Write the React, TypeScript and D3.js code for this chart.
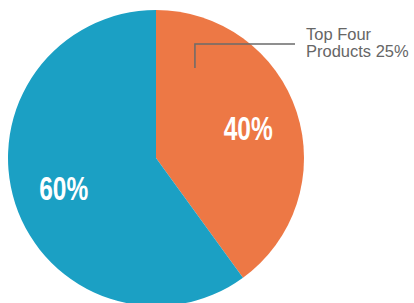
import * as d3 from "d3";
import { useEffect, useRef } from "react";

const categories = ["Top products", "Other products"];
const shares = [40, 60];
const sliceLabels = ["40%", "60%"];
const sliceColors = ["#ED7845", "#1BA0C4"];
const calloutLines = ["Top Four", "Products 25%"];

const App = () => {
    const svgRef = useRef<SVGSVGElement | null>(null);

    const dimensions = { width: 414, height: 303 };
    const center = { x: 156, y: 158 };
    const radius = 148;

    useEffect(() => {
        const svg = d3.select(svgRef.current);
        svg.selectAll("*").remove();

        const slices = categories.map((name, i) => ({
            name,
            value: shares[i],
            label: sliceLabels[i],
            color: sliceColors[i],
        }));

        const pie = d3
            .pie<(typeof slices)[number]>()
            .value((d) => d.value)
            .sort(null);

        const arc = d3
            .arc<d3.PieArcDatum<(typeof slices)[number]>>()
            .innerRadius(0)
            .outerRadius(radius);

        // labels sit at r ~97
        const labelArc = d3
            .arc<d3.PieArcDatum<(typeof slices)[number]>>()
            .innerRadius(97)
            .outerRadius(97);

        const g = svg
            .append("g")
            .attr("transform", `translate(${center.x}, ${center.y})`);

        const arcs = pie(slices);

        g.selectAll("path")
            .data(arcs)
            .join("path")
            .attr("d", arc)
            .attr("fill", (d) => d.data.color);

        // condensed look: squeeze bold sans into a narrow box
        g.selectAll("text.pct")
            .data(arcs)
            .join("text")
            .attr("class", "pct")
            .attr("transform", (d) => `translate(${labelArc.centroid(d)})`)
            .attr("text-anchor", "middle")
            .attr("dy", "0.36em")
            .attr("fill", "#fff")
            .attr("font-family", "'Liberation Sans', Arial, sans-serif")
            .attr("font-weight", "bold")
            .attr("font-size", 33)
            .attr("textLength", 49)
            .attr("lengthAdjust", "spacingAndGlyphs")
            .text((d) => d.data.label);

        // callout for the top four products
        const angle = (23.4 * Math.PI) / 180;
        const r = 98;
        const start = [r * Math.sin(angle), -r * Math.cos(angle)];
        const elbowY = 44 - center.y;
        const endX = 295 - center.x;

        g.append("path")
            .attr("d", `M${start[0]},${start[1]}V${elbowY}H${endX}`)
            .attr("fill", "none")
            .attr("stroke", "#6b6b6b")
            .attr("stroke-width", 1.5);

        const callout = g
            .append("text")
            .attr("x", endX + 11)
            .attr("y", elbowY - 4)
            .attr("fill", "#666")
            .attr("font-family", "'Liberation Sans', Arial, sans-serif")
            .attr("font-size", 16.5);

        callout
            .selectAll("tspan")
            .data(calloutLines)
            .join("tspan")
            .attr("x", endX + 11)
            .attr("dy", (_, i) => (i === 0 ? 0 : 16.5))
            .text((d) => d);
    }, []);

    return (
        <svg
            ref={svgRef}
            width={dimensions.width}
            height={dimensions.height}
            style={{ position: "absolute", left: 0, top: 0, background: "#fff" }}
        />
    );
};

export default App;
